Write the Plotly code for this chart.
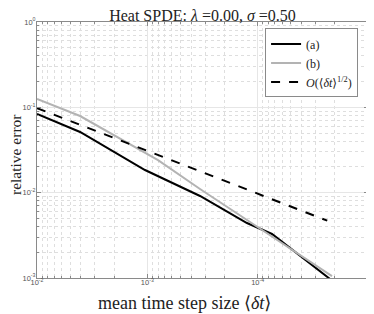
import plotly.graph_objects as go

# Data
dt_a = [1.0e-2, 4.07e-3, 1.05e-3, 3.33e-4, 1.25e-4, 7.42e-5, 2.21e-5]
err_a = [0.0835, 0.0514, 0.01844, 0.00914, 0.00441, 0.00328, 0.000973]

dt_b = [1.0e-2, 4.07e-3, 8.0e-4, 3.33e-4, 1.25e-4, 2.12e-5]
err_b = [0.1253, 0.0791, 0.0241, 0.01104, 0.00478, 0.00105]

dt_ref = [1.0e-2, 2.34e-5]
err_ref = [0.098, 0.0047]

x_tickvals = [1e-2, 1e-3, 1e-4, 1e-5]
x_ticktext = ["10<sup>-2</sup>", "10<sup>-3</sup>", "10<sup>-4</sup>", "10<sup>-5</sup>"]
y_tickvals = [1e-3, 1e-2, 1e-1, 1e0]
y_ticktext = ["10<sup>-3</sup>", "10<sup>-2</sup>", "10<sup>-1</sup>", "10<sup>0</sup>"]

x_minor = [k * 10.0**e for e in (-5, -4, -3) for k in range(2, 10)]
y_minor = [k * 10.0**e for e in (-3, -2, -1) for k in range(2, 10)]

serif = '"Liberation Serif", "DejaVu Serif", serif'
sans = '"Liberation Sans", "DejaVu Sans", sans-serif'

fig = go.Figure()
fig.add_trace(go.Scatter(x=dt_a, y=err_a, mode="lines", name="(a)",
                         line=dict(color="black", width=2)))
fig.add_trace(go.Scatter(x=dt_b, y=err_b, mode="lines", name="(b)",
                         line=dict(color="#b3b3b3", width=2)))
fig.add_trace(go.Scatter(x=dt_ref, y=err_ref, mode="lines",
                         name="<i>O</i>(⟨<i>δt</i>⟩<sup>1/2</sup>)",
                         line=dict(color="black", width=2, dash="dash")))

axis_common = dict(
    type="log", showline=True, linecolor="#8a8a8a", linewidth=1, mirror="allticks",
    ticks="inside", ticklen=4, tickcolor="#8a8a8a",
    showgrid=True, gridcolor="#e6e6e6", gridwidth=1,
    zeroline=False, tickmode="array", automargin=False,
    tickfont=dict(family=sans, size=7.5, color="#555555"),
)

fig.update_xaxes(
    **axis_common,
    range=[-2, -5],
    tickvals=x_tickvals, ticktext=x_ticktext,
    ticklabelstandoff=-3,
    minor=dict(tickvals=x_minor, ticks="inside", ticklen=2, tickcolor="#8a8a8a",
               showgrid=True, gridcolor="#dedede", griddash="dot", gridwidth=1),
)
fig.update_yaxes(
    **axis_common,
    range=[-3, 0],
    tickvals=y_tickvals, ticktext=y_ticktext,
    ticklabelstandoff=-1,
    minor=dict(tickvals=y_minor, ticks="inside", ticklen=2, tickcolor="#8a8a8a",
               showgrid=True, gridcolor="#dedede", griddash="dot", gridwidth=1),
)

# axis titles as annotations for exact placement
fig.add_annotation(text="mean time step size ⟨<i>δt</i>⟩", xref="paper", yref="paper",
                   x=0.5, y=0, xanchor="center", yanchor="middle", xshift=-18, yshift=-25,
                   showarrow=False, font=dict(family=serif, size=18, color="#222"))
fig.add_annotation(text="relative error", xref="paper", yref="paper",
                   x=0, y=0.5, xanchor="center", yanchor="middle", xshift=-22, yshift=-5,
                   textangle=-90, showarrow=False, font=dict(family=serif, size=15.5, color="#222"))

# page body has an 8px margin: figure sized/offset so the plot area lands at x 37-368, y 22-278
fig.update_layout(
    width=366, height=306,
    margin=dict(l=29, r=6, t=14, b=36),
    paper_bgcolor="white", plot_bgcolor="white",
    title=dict(text="Heat SPDE: <i>λ</i> =0.00, <i>σ</i> =0.50",
               font=dict(family=serif, size=16, color="#222"),
               xref="paper", x=0.5, xanchor="center", y=0.995, yanchor="top", pad=dict(t=0, b=0)),
    legend=dict(x=0.97, y=0.975, xanchor="right", yanchor="top",
                bgcolor="white", bordercolor="#8a8a8a", borderwidth=1,
                font=dict(family=serif, size=12, color="#222"),
                tracegroupgap=0, itemwidth=30),
    showlegend=True,
)

fig.write_html("out.html")
